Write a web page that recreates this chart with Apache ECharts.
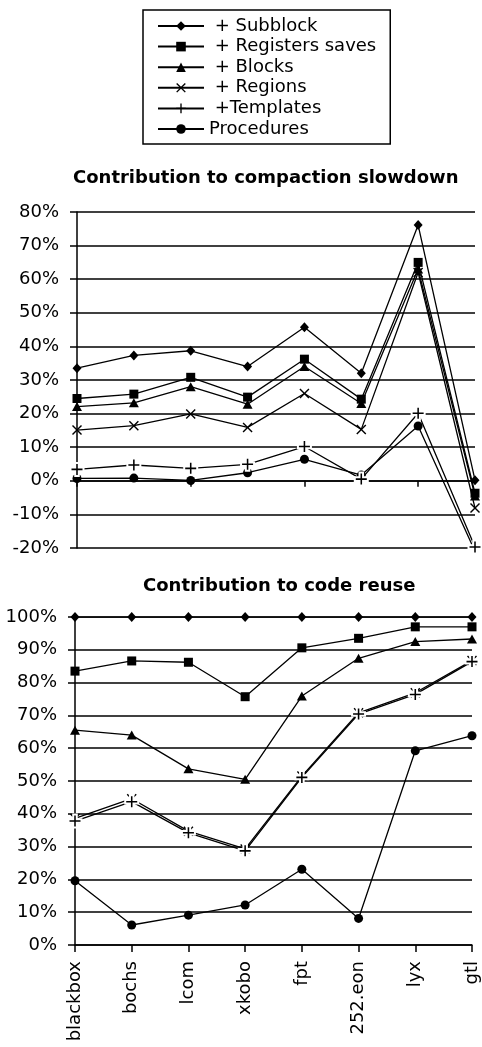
<!DOCTYPE html>
<html><head><meta charset="utf-8">
<script src="https://cdn.jsdelivr.net/npm/echarts@6/dist/echarts.min.js"></script>
<style>html,body{margin:0;padding:0;background:#fff}#c{width:482px;height:1047px}</style>
</head><body><div id="c"></div>
<script>
const categories = ['blackbox','bochs','lcom','xkobo','fpt','252.eon','lyx','gtl'];
const seriesNames = [' + Subblock',' + Registers saves',' + Blocks',' + Regions',' +Templates','Procedures'];
const titles = ['Contribution to compaction slowdown','Contribution to code reuse'];

// Chart 1: Contribution to compaction slowdown (%)
const slowSubblock   = [33.5, 37.3, 38.7, 34.0, 45.7, 32.0, 76.1, 0.2];
const slowRegisters  = [24.5, 25.8, 30.8, 24.9, 36.2, 24.3, 65.0, -3.7];
const slowBlocks     = [22.1, 23.2, 28.0, 22.8, 34.0, 23.0, 63.0, -4.5];
const slowRegions    = [15.1, 16.4, 19.9, 15.9, 26.0, 15.3, 62.0, -8.1];
const slowTemplates  = [3.4, 4.7, 3.7, 4.9, 10.2, 0.5, 20.1, -19.7];
const slowProcedures = [0.7, 0.8, 0.1, 2.4, 6.4, 1.7, 16.3, -21.0];
const slowAxis = [-20, 80, 10]; // min, max, interval -> -20% ... 80%

// Chart 2: Contribution to code reuse (%)
const reuseSubblock   = [100, 100, 100, 100, 100, 100, 100, 100];
const reuseRegisters  = [83.5, 86.6, 86.2, 75.7, 90.6, 93.5, 97.0, 97.0];
const reuseBlocks     = [65.5, 64.0, 53.7, 50.5, 75.9, 87.4, 92.5, 93.3];
const reuseRegions    = [38.6, 44.6, 34.7, 29.3, 51.5, 70.8, 76.9, 86.7];
const reuseTemplates  = [37.8, 43.7, 34.2, 28.7, 51.1, 70.4, 76.4, 86.4];
const reuseProcedures = [19.6, 6.1, 9.1, 12.2, 23.1, 8.1, 59.2, 63.8];
const reuseAxis = [0, 100, 10]; // 0% ... 100%

const FONT = 'DejaVu Sans';
const PLUS = 'path://M43,0H57V43H100V57H57V100H43V57H0V43H43Z';
const CROSS = 'path://M0,10L10,0L50,40L90,0L100,10L60,50L100,90L90,100L50,60L10,100L0,90L40,50Z';
const markers = ['diamond', 'rect', 'triangle', CROSS, PLUS, 'circle'];
const msizes = [[9, 10], [9, 9], [10, 9], 10, 11, 9];

function buildSeries(gi, arrs) {
  const out = [];
  arrs.forEach((d, i) => {
    out.push({
      name: seriesNames[i], type: 'line', xAxisIndex: gi, yAxisIndex: gi, data: d,
      symbol: markers[i], symbolSize: msizes[i], showSymbol: true, clip: true,
      lineStyle: { color: '#000', width: 1.3 }, itemStyle: { color: '#000' },
      z: 2, emphasis: { disabled: true }, silent: true
    });
  });
  // white halo behind the "+" markers
  out.push({
    name: 'halo' + gi, type: 'line', xAxisIndex: gi, yAxisIndex: gi, data: arrs[4],
    symbol: PLUS, symbolSize: 11, clip: true,
    lineStyle: { width: 0, opacity: 0 },
    itemStyle: { color: '#fff', borderColor: '#fff', borderWidth: 4 },
    z: 3, emphasis: { disabled: true }, silent: true
  });
  out.push({
    name: 'plus' + gi, type: 'line', xAxisIndex: gi, yAxisIndex: gi, data: arrs[4],
    symbol: PLUS, symbolSize: 11, clip: true,
    lineStyle: { width: 0, opacity: 0 }, itemStyle: { color: '#000' },
    z: 4, emphasis: { disabled: true }, silent: true
  });
  return out;
}

const blk = { color: '#000', width: 1.5 };
const chart = echarts.init(document.getElementById('c'), null, { renderer: 'canvas' });
chart.setOption({
  animation: false,
  backgroundColor: '#fff',
  title: [
    { text: titles[0], left: 73, top: 169, padding: 0,
      textStyle: { fontFamily: FONT, fontWeight: 'bold', fontSize: 18, color: '#000' } },
    { text: titles[1], left: 143, top: 577, padding: 0,
      textStyle: { fontFamily: FONT, fontWeight: 'bold', fontSize: 18, color: '#000' } }
  ],
  legend: {
    data: seriesNames, orient: 'vertical', left: 143, top: 10,
    padding: [7, 14, 6, 14], itemWidth: 46, itemHeight: 12, itemGap: 2.6,
    borderColor: '#000', borderWidth: 1.5, selectedMode: false,
    textStyle: { fontFamily: FONT, fontSize: 18, color: '#000' }
  },
  grid: [
    { left: 77, right: 7, top: 212, bottom: 1047 - 548 },
    { left: 75, right: 10, top: 617, bottom: 1047 - 945 }
  ],
  xAxis: [
    { gridIndex: 0, type: 'category', data: categories, boundaryGap: false,
      axisLine: { onZero: true, lineStyle: blk },
      axisTick: { show: true, length: 6, lineStyle: blk },
      axisLabel: { show: false }, splitLine: { show: false } },
    { gridIndex: 1, type: 'category', data: categories, boundaryGap: false,
      axisLine: { lineStyle: blk },
      axisTick: { show: true, length: 7, lineStyle: blk },
      axisLabel: { rotate: 90, margin: 16, fontFamily: FONT, fontSize: 18, color: '#000' },
      splitLine: { show: false } }
  ],
  yAxis: [
    { gridIndex: 0, type: 'value', min: slowAxis[0], max: slowAxis[1], interval: slowAxis[2],
      axisLine: { show: true, lineStyle: blk },
      axisTick: { show: true, length: 7, lineStyle: blk },
      axisLabel: { formatter: '{value}%', margin: 18, fontFamily: FONT, fontSize: 18, color: '#000' },
      splitLine: { show: true, lineStyle: blk } },
    { gridIndex: 1, type: 'value', min: reuseAxis[0], max: reuseAxis[1], interval: reuseAxis[2],
      axisLine: { show: true, lineStyle: blk },
      axisTick: { show: true, length: 7, lineStyle: blk },
      axisLabel: { formatter: '{value}%', margin: 18, fontFamily: FONT, fontSize: 18, color: '#000' },
      splitLine: { show: true, lineStyle: blk } }
  ],
  series: [
    ...buildSeries(0, [slowSubblock, slowRegisters, slowBlocks, slowRegions, slowTemplates, slowProcedures]),
    ...buildSeries(1, [reuseSubblock, reuseRegisters, reuseBlocks, reuseRegions, reuseTemplates, reuseProcedures])
  ]
});
</script></body></html>
